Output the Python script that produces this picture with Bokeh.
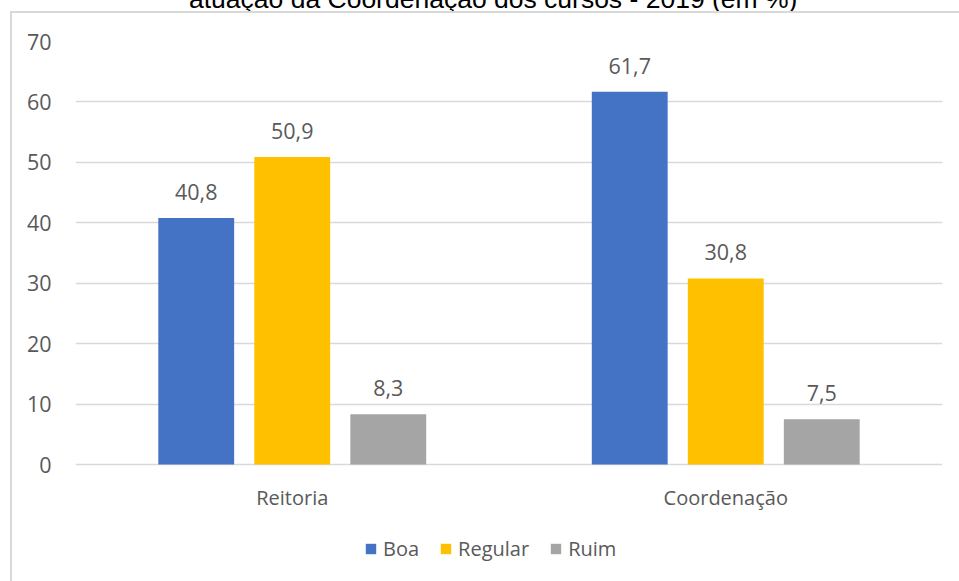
from bokeh.plotting import figure
from bokeh.layouts import column, row
from bokeh.models import (ColumnDataSource, FactorRange, Range1d, FixedTicker, Legend,
                          LegendItem, Div, Spacer)
from bokeh.transform import dodge
from bokeh.core.properties import value
from bokeh.embed import file_html
from bokeh.resources import INLINE

# ---- data ----
categories = ["Reitoria", "Coordenação"]
series = ["Boa", "Regular", "Ruim"]
boa = [40.8, 61.7]
regular = [50.9, 30.8]
ruim = [8.3, 7.5]
y_ticks = [0, 10, 20, 30, 40, 50, 60, 70]
title_text = "atuação da Coordenação dos cursos - 2019 (em %)"

colors = ["#4472C4", "#FFC000", "#A5A5A5"]
offsets = [-0.2215, 0.0, 0.2215]
values = [boa, regular, ruim]

FONT = "Open Sans"
GREY = "#595959"
TXT = "20px"
NUM = "21.5px"
BORDER = "#d9d9d9"

# layout geometry (pixels inside the figure canvas)
W, H = 947, 568
TOP, ZERO = 28, 451           # frame top and the y of value 0
px_per_unit = (ZERO - TOP) / 70.0
y_start = -(H - ZERO) / px_per_unit   # the frame reaches the canvas bottom (room for legend)

p = figure(width=W, height=H, x_range=FactorRange(*categories), y_range=Range1d(y_start, 70),
           output_backend="svg", toolbar_location=None, margin=0, x_axis_location=None,
           min_border_left=63, min_border_right=17, min_border_top=TOP, min_border_bottom=0)
p.outline_line_color = None
p.background_fill_color = "white"
p.border_fill_color = "white"

items = []
for name, vals, col, off in zip(series, values, colors, offsets):
    src = ColumnDataSource(dict(cat=categories, val=vals,
                                lab=[f"{v:.1f}".replace(".", ",") for v in vals]))
    r = p.vbar(x=dodge("cat", off, range=p.x_range), top="val", bottom=0, width=0.175,
               source=src, fill_color=col, line_color=None)
    p.text(x=dodge("cat", off, range=p.x_range), y="val", text="lab", source=src,
           text_align="center", text_baseline="alphabetic", y_offset=-26,
           text_font=value(FONT), text_font_size=NUM, text_color=GREY)
    items.append(LegendItem(label=name, renderers=[r]))

# category labels under the zero line
cat_src = ColumnDataSource(dict(cat=categories, base=[0] * len(categories)))
p.text(x="cat", y="base", text="cat", source=cat_src, text_align="center",
       text_baseline="middle", y_offset=33, text_font=value(FONT), text_font_size=TXT,
       text_color=GREY)

# y axis
p.yaxis.ticker = FixedTicker(ticks=y_ticks)
ax = p.yaxis[0]
ax.axis_line_color = None
ax.major_tick_line_color = None
ax.minor_tick_line_color = None
ax.major_label_text_font = FONT
ax.major_label_text_color = GREY
ax.major_label_text_font_size = NUM
ax.major_label_standoff = 18
p.xgrid.grid_line_color = None
p.ygrid.grid_line_color = BORDER
p.ygrid.grid_line_width = 1.3

legend = Legend(items=items, orientation="horizontal", location=(289, 19),
                glyph_width=13, glyph_height=13, label_standoff=6, spacing=20,
                padding=0, margin=0, border_line_color=None, background_fill_alpha=0,
                label_text_font=FONT, label_text_font_size=TXT, label_text_color=GREY)
p.add_layout(legend, "center")

# cut-off title strip above the chart box
title_div = Div(
    text=('<div style="position:absolute; left:189px; top:-16.5px; white-space:nowrap; '
          'font-family:\'Liberation Sans\'; font-size:26.5px; line-height:30px; color:#000;">'
          + title_text + '</div>'),
    width=959, height=11, margin=0,
    styles={"overflow": "hidden", "position": "relative"})

top_line = Div(text="", width=949, height=2, margin=0, styles={"background-color": BORDER})
left_line = Div(text="", width=2, height=H, margin=0, styles={"background-color": BORDER})

layout = column(
    title_div,
    row(Spacer(width=10, height=2), top_line, spacing=0, margin=0),
    row(Spacer(width=10, height=H), left_line, p, spacing=0, margin=0),
    spacing=0, margin=0)
open("out.html", "w").write(file_html(layout, INLINE))
